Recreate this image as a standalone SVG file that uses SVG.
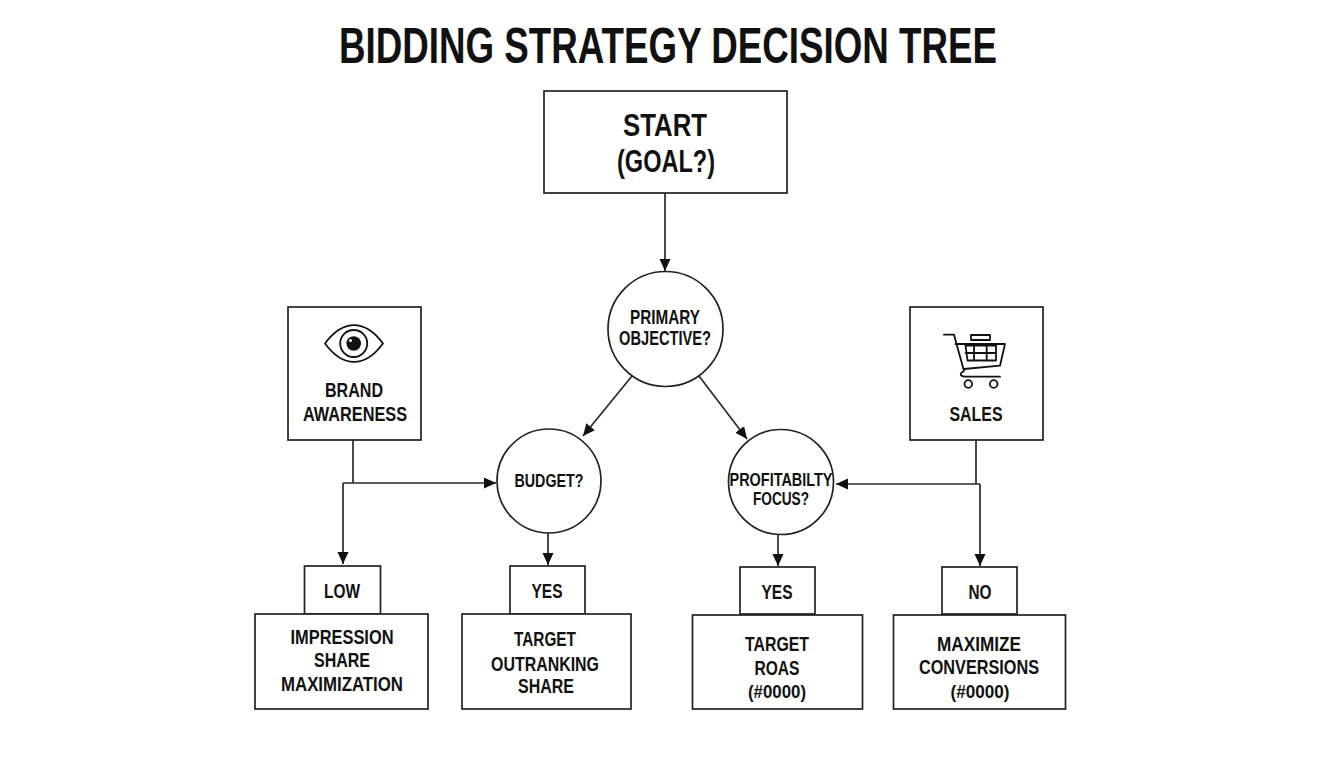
<svg xmlns="http://www.w3.org/2000/svg" width="1344" height="768" viewBox="0 0 1344 768">
<style>
.b{fill:#fff;stroke:#222;stroke-width:1.7}
.c{fill:none;stroke:#2a2a2a;stroke-width:1.7}
.ic{fill:none;stroke:#111;stroke-width:1.8;stroke-linejoin:round;stroke-linecap:round}
text{font-family:"Liberation Sans",Arial,sans-serif;font-weight:700;fill:#111;text-anchor:middle;stroke:none}
.t{font-size:50px}.l{font-size:32px}.m{font-size:21px}.s{font-size:19px}.n{font-size:21px}
</style>
<defs><marker id="a" markerUnits="userSpaceOnUse" markerWidth="13" markerHeight="12" refX="12" refY="5.500" orient="auto"><path d="M0 0L12 5.500L0 11Z" fill="#111"/></marker></defs>
<rect width="1344" height="768" fill="#fff"/>
<text class="t" x="668" y="63" textLength="658" lengthAdjust="spacingAndGlyphs">BIDDING STRATEGY DECISION TREE</text>
<g id="connectors">
<path class="c" d="M665 193V271" marker-end="url(#a)"/>
<path class="c" d="M632 376L583 436" marker-end="url(#a)"/>
<path class="c" d="M699 376L747 439" marker-end="url(#a)"/>
<path class="c" d="M353 440V483"/>
<path class="c" d="M343 483H496" marker-end="url(#a)"/>
<path class="c" d="M343 483V564" marker-end="url(#a)"/>
<path class="c" d="M548 532V565" marker-end="url(#a)"/>
<path class="c" d="M778 535V566" marker-end="url(#a)"/>
<path class="c" d="M976 440V484"/>
<path class="c" d="M980 484H836" marker-end="url(#a)"/>
<path class="c" d="M980 484V566" marker-end="url(#a)"/>
</g>
<g id="start"><rect class="b" x="544" y="91" width="243" height="102"/><text class="l" x="665" y="136" textLength="84" lengthAdjust="spacingAndGlyphs">START</text><text class="l" x="666" y="172" textLength="98" lengthAdjust="spacingAndGlyphs">(GOAL?)</text></g>
<g id="primary"><circle class="b" cx="665.500" cy="329" r="57.500"/><text class="m" x="665" y="324" textLength="70" lengthAdjust="spacingAndGlyphs">PRIMARY</text><text class="m" x="665" y="345" textLength="92" lengthAdjust="spacingAndGlyphs">OBJECTIVE?</text></g>
<g id="brand"><rect class="b" x="288" y="307" width="133" height="133"/>
<path class="ic" d="M325 343.500C343 319 365 319 383 343.500C365 368 343 368 325 343.500Z"/><circle class="ic" cx="353.700" cy="343.500" r="13.500"/><circle cx="353.700" cy="343.500" r="7.300" fill="#111"/><circle cx="350.500" cy="340.500" r="1.500" fill="#fff"/>
<text class="m" x="354" y="397" textLength="58" lengthAdjust="spacingAndGlyphs">BRAND</text><text class="m" x="355" y="421" textLength="104" lengthAdjust="spacingAndGlyphs">AWARENESS</text></g>
<g id="sales"><rect class="b" x="910" y="307" width="133" height="133"/>
<path class="ic" d="M944 334.700H954L964 371C958 374 961 376.700 966 376.700H1000M955.500 344H1005L1000 365.700L964 369"/><path class="ic" d="M965.500 345.500H996V360.500H967.500ZM974 345.500V360M986.700 345.500V360M965.500 353H996"/><rect class="ic" x="971" y="335" width="19" height="5"/><circle class="ic" cx="968.300" cy="384" r="3.800"/><circle class="ic" cx="993.700" cy="384" r="3.800"/>
<text class="m" x="976" y="421" textLength="53" lengthAdjust="spacingAndGlyphs">SALES</text></g>
<g id="budget"><circle class="b" cx="549" cy="481" r="52"/><text class="s" x="549" y="487" textLength="69" lengthAdjust="spacingAndGlyphs">BUDGET?</text></g>
<g id="profit"><circle class="b" cx="781" cy="482" r="52.500"/><text class="s" x="781" y="486" textLength="103" lengthAdjust="spacingAndGlyphs">PROFITABILTY</text><text class="s" x="781" y="505" textLength="56" lengthAdjust="spacingAndGlyphs">FOCUS?</text></g>
<g id="low"><rect class="b" x="304.500" y="566" width="76" height="48"/><text class="n" x="342" y="598" textLength="36" lengthAdjust="spacingAndGlyphs">LOW</text></g>
<g id="yes1"><rect class="b" x="510" y="566" width="75" height="48"/><text class="n" x="547" y="598" textLength="31" lengthAdjust="spacingAndGlyphs">YES</text></g>
<g id="yes2"><rect class="b" x="740" y="567" width="75" height="47"/><text class="n" x="777" y="599" textLength="31" lengthAdjust="spacingAndGlyphs">YES</text></g>
<g id="no"><rect class="b" x="942" y="567" width="75" height="47"/><text class="n" x="980" y="599" textLength="23" lengthAdjust="spacingAndGlyphs">NO</text></g>
<g id="impression"><rect class="b" x="255" y="614" width="173" height="95"/><text class="m" x="342" y="644" textLength="103" lengthAdjust="spacingAndGlyphs">IMPRESSION</text><text class="m" x="342" y="667" textLength="56" lengthAdjust="spacingAndGlyphs">SHARE</text><text class="m" x="342" y="691" textLength="122" lengthAdjust="spacingAndGlyphs">MAXIMIZATION</text></g>
<g id="outranking"><rect class="b" x="462" y="614" width="169" height="95"/><text class="m" x="545" y="646" textLength="62" lengthAdjust="spacingAndGlyphs">TARGET</text><text class="m" x="545" y="671" textLength="108" lengthAdjust="spacingAndGlyphs">OUTRANKING</text><text class="m" x="546" y="693" textLength="56" lengthAdjust="spacingAndGlyphs">SHARE</text></g>
<g id="roas"><rect class="b" x="692.500" y="615" width="170" height="94"/><text class="m" x="777" y="651" textLength="64" lengthAdjust="spacingAndGlyphs">TARGET</text><text class="m" x="777" y="675" textLength="45" lengthAdjust="spacingAndGlyphs">ROAS</text><text class="s" x="777" y="698" textLength="58" lengthAdjust="spacingAndGlyphs">(#0000)</text></g>
<g id="maximize"><rect class="b" x="893.500" y="615" width="172" height="94"/><text class="m" x="979" y="651" textLength="84" lengthAdjust="spacingAndGlyphs">MAXIMIZE</text><text class="m" x="979" y="674" textLength="120" lengthAdjust="spacingAndGlyphs">CONVERSIONS</text><text class="s" x="980" y="698" textLength="59" lengthAdjust="spacingAndGlyphs">(#0000)</text></g>
</svg>
